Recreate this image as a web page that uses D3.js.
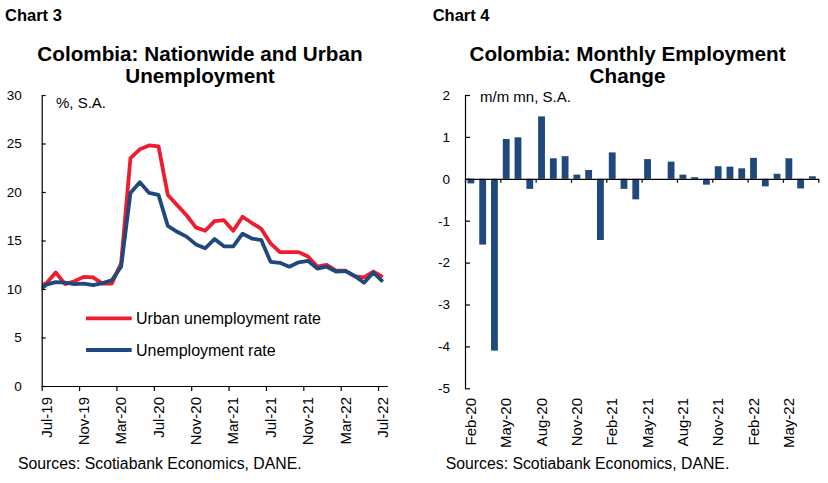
<!DOCTYPE html>
<html>
<head>
<meta charset="utf-8">
<script src="https://cdn.jsdelivr.net/npm/d3@7"></script>
<style>
    body { margin: 0; background: #fff; }
    svg { display: block; }
    text { font-family: "Liberation Sans", Arial, sans-serif; fill: #000; }
</style>
</head>
<body>
<div id="chart"></div>
<script>
// ---- Chart 3 data (monthly, Jun-19 .. Jul-22; Jun-19 is only seen where the y axis cuts it)
const lineMonths = d3.timeMonth.range(new Date(2019, 5, 1), new Date(2022, 7, 1));
const urbanRate = [10.2, 10.6, 11.7, 10.5, 10.8, 11.25, 11.2, 10.55, 10.55, 12.65,
    23.5, 24.4, 24.8, 24.7, 19.7, 18.65, 17.6, 16.35, 16.0, 17.0,
    17.1, 16.0, 17.45, 16.8, 16.2, 14.7, 13.8, 13.8, 13.8, 13.35,
    12.3, 12.5, 11.9, 11.9, 11.3, 11.2, 11.8, 11.25];
const nationalRate = [9.7, 10.45, 10.7, 10.65, 10.5, 10.55, 10.4, 10.6, 10.9, 12.3,
    19.9, 21.0, 19.9, 19.7, 16.5, 15.9, 15.4, 14.6, 14.2, 15.15,
    14.4, 14.4, 15.7, 15.2, 15.05, 12.8, 12.7, 12.3, 12.75, 12.9,
    12.1, 12.3, 11.8, 11.85, 11.35, 10.65, 11.7, 10.75];
const lineTickLabels = ['Jul-19', 'Nov-19', 'Mar-20', 'Jul-20', 'Nov-20', 'Mar-21', 'Jul-21', 'Nov-21', 'Mar-22', 'Jul-22'];
const lineYTicks = [0, 5, 10, 15, 20, 25, 30];

// ---- Chart 4 data (monthly, Feb-20 .. Jul-22)
const barMonths = d3.timeMonth.range(new Date(2020, 1, 1), new Date(2022, 7, 1));
const employmentChange = [-0.11, -1.57, -4.1, 0.95, 0.99, -0.24, 1.49, 0.49, 0.54, 0.1,
    0.21, -1.46, 0.63, -0.24, -0.49, 0.47, 0.0, 0.41, 0.1, 0.04,
    -0.14, 0.3, 0.29, 0.25, 0.5, -0.18, 0.12, 0.49, -0.23, 0.06];
const barTickLabels = ['Feb-20', 'May-20', 'Aug-20', 'Nov-20', 'Feb-21', 'May-21', 'Aug-21', 'Nov-21', 'Feb-22', 'May-22'];
const barYTicks = [-5, -4, -3, -2, -1, 0, 1, 2];

const RED = '#ED1C2E';
const BLUE = '#1F497D';

const svg = d3.select('#chart')
    .append('svg')
    .attr('width', 828)
    .attr('height', 483);

function styleAxis(g) {
    g.select('.domain').attr('stroke', '#000').attr('stroke-width', 1.2);
    g.selectAll('.tick line').attr('stroke', '#000').attr('stroke-width', 1.2);
    g.selectAll('text').attr('font-size', '13.5px').attr('fill', '#000')
        .attr('font-family', '"Liberation Sans", Arial, sans-serif');
}

function drawHeader(x0, cx, chartNo, titleLines, unit, unitX, unitY) {
    svg.append('text')
        .attr('x', x0).attr('y', 21)
        .attr('font-family', 'Lato, "Open Sans", sans-serif')
        .attr('font-weight', 'bold')
        .attr('font-size', '16.5px')
        .text(chartNo);

    svg.selectAll(null)
        .data(titleLines)
        .enter()
        .append('text')
        .attr('x', cx)
        .attr('y', (d, i) => 61 + i * 22)
        .attr('text-anchor', 'middle')
        .attr('font-weight', 'bold')
        .attr('font-size', '20.7px')
        .text(d => d);

    svg.append('text')
        .attr('x', unitX).attr('y', unitY)
        .attr('font-size', '15px')
        .text(unit);

    svg.append('text')
        .attr('x', x0 + 13).attr('y', 469)
        .attr('font-size', '15.8px')
        .text('Sources:  Scotiabank Economics, DANE.');
}

// ---------------- Chart 3: lines
function drawLineChart() {
    const left = 41.7, right = 387.4, top = 95, bottom = 386;
    const n = lineTickLabels.length * 4 - 3; // Jul-19 .. Jul-22 = 37 months on the axis

    // index 0 = Jul-19; Jun-19 sits at -1, left of the axis
    const x = d3.scaleLinear().domain([-0.5, n - 0.5]).range([left, right]);
    const y = d3.scaleLinear().domain([0, 30]).range([bottom, top]);

    drawHeader(5, 200, 'Chart 3', ['Colombia: Nationwide and Urban', 'Unemployment'], '%, S.A.', 56, 108);

    svg.append('clipPath').attr('id', 'clip-lines')
        .append('rect')
        .attr('x', left).attr('y', 0)
        .attr('width', right - left).attr('height', 483);

    const line = d3.line()
        .x((d, i) => x(i - 1))
        .y(d => y(d));

    svg.append('path')
        .datum(urbanRate)
        .attr('clip-path', 'url(#clip-lines)')
        .attr('fill', 'none')
        .attr('stroke', RED)
        .attr('stroke-width', 3.8)
        .attr('stroke-linejoin', 'round')
        .attr('d', line);

    svg.append('path')
        .datum(nationalRate)
        .attr('clip-path', 'url(#clip-lines)')
        .attr('fill', 'none')
        .attr('stroke', BLUE)
        .attr('stroke-width', 3.8)
        .attr('stroke-linejoin', 'round')
        .attr('d', line);

    // Y axis (ticks inside)
    svg.append('g')
        .attr('transform', `translate(${left},0)`)
        .call(d3.axisLeft(y).tickValues(lineYTicks).tickFormat(d3.format('d'))
            .tickSizeInner(-4).tickSizeOuter(0).tickPadding(20))
        .call(styleAxis);

    // X axis: ticks on month boundaries every 4 months
    const boundaries = d3.range(0, n, 4).map(i => i - 0.5);
    svg.append('g')
        .attr('transform', `translate(0,${bottom})`)
        .call(d3.axisBottom(x).tickValues(boundaries).tickFormat('')
            .tickSizeInner(5).tickSizeOuter(0))
        .call(styleAxis);

    svg.selectAll('.line-xlabel')
        .data(lineTickLabels)
        .enter()
        .append('text')
        .attr('class', 'line-xlabel')
        .attr('transform', (d, i) => `translate(${x(i * 4)},397) rotate(-90)`)
        .attr('dy', '0.35em')
        .attr('text-anchor', 'end')
        .attr('font-size', '15px')
        .text(d => d);

    // Legend
    const legend = [
        {name: 'Urban unemployment rate', color: RED, y: 318.3},
        {name: 'Unemployment rate', color: BLUE, y: 350}
    ];
    const lg = svg.selectAll('.legend-item')
        .data(legend)
        .enter()
        .append('g')
        .attr('class', 'legend-item');
    lg.append('line')
        .attr('x1', 86).attr('x2', 131.7)
        .attr('y1', d => d.y).attr('y2', d => d.y)
        .attr('stroke', d => d.color)
        .attr('stroke-width', 3.8);
    lg.append('text')
        .attr('x', 136)
        .attr('y', d => d.y + 5.8)
        .attr('font-size', '16px')
        .text(d => d.name);
}

// ---------------- Chart 4: bars
function drawBarChart() {
    const left = 465, right = 818.3, top = 95, bottom = 388.3;
    const y = d3.scaleLinear().domain([-5, 2]).range([bottom, top]);
    const xb = d3.scaleLinear().domain([0, barMonths.length]).range([left, right]);
    const x = d3.scaleBand()
        .domain(d3.range(barMonths.length))
        .range([left, right])
        .paddingInner(0.42)
        .paddingOuter(0.21);

    drawHeader(432.7, 627.5, 'Chart 4', ['Colombia: Monthly Employment', 'Change'], 'm/m mn, S.A.', 480, 101.7);

    svg.selectAll('.bar')
        .data(employmentChange)
        .enter()
        .append('rect')
        .attr('class', 'bar')
        .attr('x', (d, i) => x(i))
        .attr('width', x.bandwidth())
        .attr('y', d => y(Math.max(0, d)))
        .attr('height', d => Math.abs(y(d) - y(0)))
        .attr('fill', BLUE);

    svg.append('g')
        .attr('transform', `translate(${left},0)`)
        .call(d3.axisLeft(y).tickValues(barYTicks).tickFormat(d => String(d))
            .tickSizeInner(-5).tickSizeOuter(0).tickPadding(15))
        .call(styleAxis);

    svg.append('g')
        .attr('transform', `translate(0,${y(0)})`)
        .call(d3.axisBottom(xb).tickValues(d3.range(0, barMonths.length + 1, 3)).tickFormat('')
            .tickSizeInner(4).tickSizeOuter(0))
        .call(styleAxis);

    svg.selectAll('.bar-xlabel')
        .data(barTickLabels)
        .enter()
        .append('text')
        .attr('class', 'bar-xlabel')
        .attr('transform', (d, i) => `translate(${xb(i * 3 + 0.5)},398) rotate(-90)`)
        .attr('dy', '0.35em')
        .attr('text-anchor', 'end')
        .attr('font-size', '15px')
        .text(d => d);
}

drawLineChart();
drawBarChart();
</script>
</body>
</html>
